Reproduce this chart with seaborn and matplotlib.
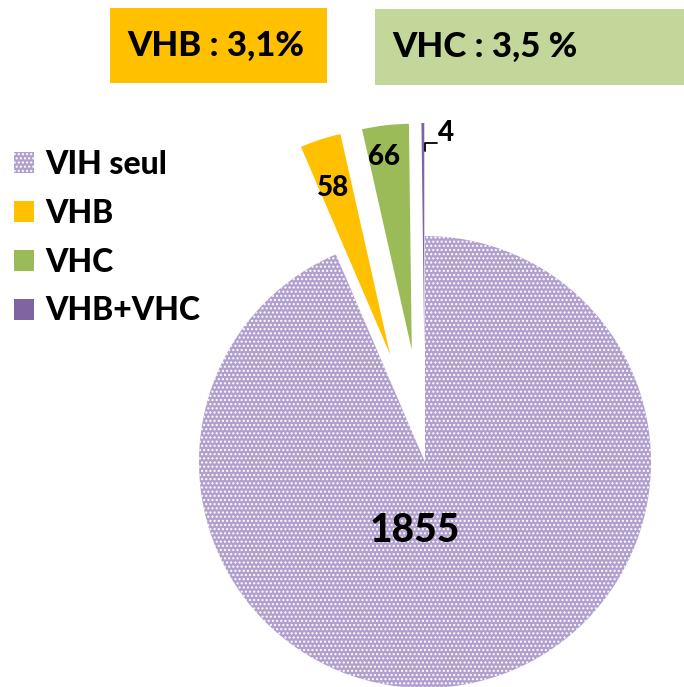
import matplotlib
matplotlib.use('Agg')
import matplotlib.pyplot as plt
import seaborn as sns
from matplotlib.patches import Rectangle

# ---- data ----
categories = ['VIH seul', 'VHB', 'VHC', 'VHB+VHC']
values = [1855, 58, 66, 4]
slice_colors = ['#B1A0CD', '#FFC000', '#9BBB59', '#8064A2']
explode = [0, 0.5, 0.5, 0.5]
header_labels = ['VHB : 3,1%', 'VHC : 3,5 %']
header_colors = ['#FFC000', '#C4D79B']

sns.set_theme(style='white')
plt.rcParams['font.family'] = ['Lato', 'DejaVu Sans']
plt.rcParams['text.color'] = 'black'
plt.rcParams['hatch.linewidth'] = 1.0

W, H = 684, 687
fig = plt.figure(figsize=(W / 100, H / 100), dpi=100)
ax = fig.add_axes([0, 0, 1, 1])

palette = sns.color_palette(slice_colors)
wedges, _ = ax.pie(values, colors=palette, explode=explode, startangle=90,
                   counterclock=False, radius=1.0,
                   wedgeprops=dict(linewidth=0))
wedges[0].set_hatch('....')
wedges[0].set_edgecolor('white')
wedges[0].set_linewidth(0)

cx, cy, r = 425, 462, 226
ax.set_xlim(-cx / r, (W - cx) / r)
ax.set_ylim(-(H - cy) / r, cy / r)
ax.set_aspect('auto')
ax.axis('off')


def px(x, y):
    return ((x - cx) / r, (cy - y) / r)


FW = 'black'
# value labels
ax.text(*px(415, 530), f'{values[0]}', ha='center', va='center', fontsize=28, fontweight=FW)
ax.text(*px(333, 188), f'{values[1]}', ha='center', va='center', fontsize=20, fontweight=FW)
ax.text(*px(384, 157), f'{values[2]}', ha='center', va='center', fontsize=20, fontweight=FW)
ax.text(*px(446, 133), f'{values[3]}', ha='center', va='center', fontsize=20, fontweight=FW)
ax.annotate('', xy=px(425, 151), xytext=px(437, 143),
            arrowprops=dict(arrowstyle='-', color='black', lw=1.3,
                            connectionstyle='angle,angleA=0,angleB=90',
                            shrinkA=0, shrinkB=0))

# legend
leg = fig.legend(wedges, categories, loc='upper left',
                 bbox_to_anchor=(14 / W, 1 - 150 / H), frameon=False,
                 prop=dict(weight=FW, size=23), handlelength=0.62,
                 handleheight=0.62, handletextpad=0.35, labelspacing=0.62,
                 borderpad=0, borderaxespad=0)

# header boxes
boxes = [(110, 8, 217, 75), (375, 9, 309, 76)]
for (bx, by, bw, bh), lab, col in zip(boxes, header_labels, header_colors):
    fig.add_artist(Rectangle((bx / W, 1 - (by + bh) / H), bw / W, bh / H,
                             transform=fig.transFigure, color=col, lw=0))
    fig.text((bx + 17) / W, 1 - (by + bh / 2) / H, lab, ha='left', va='center',
             fontsize=25, fontweight=FW)

fig.savefig('out.png', dpi=100)
